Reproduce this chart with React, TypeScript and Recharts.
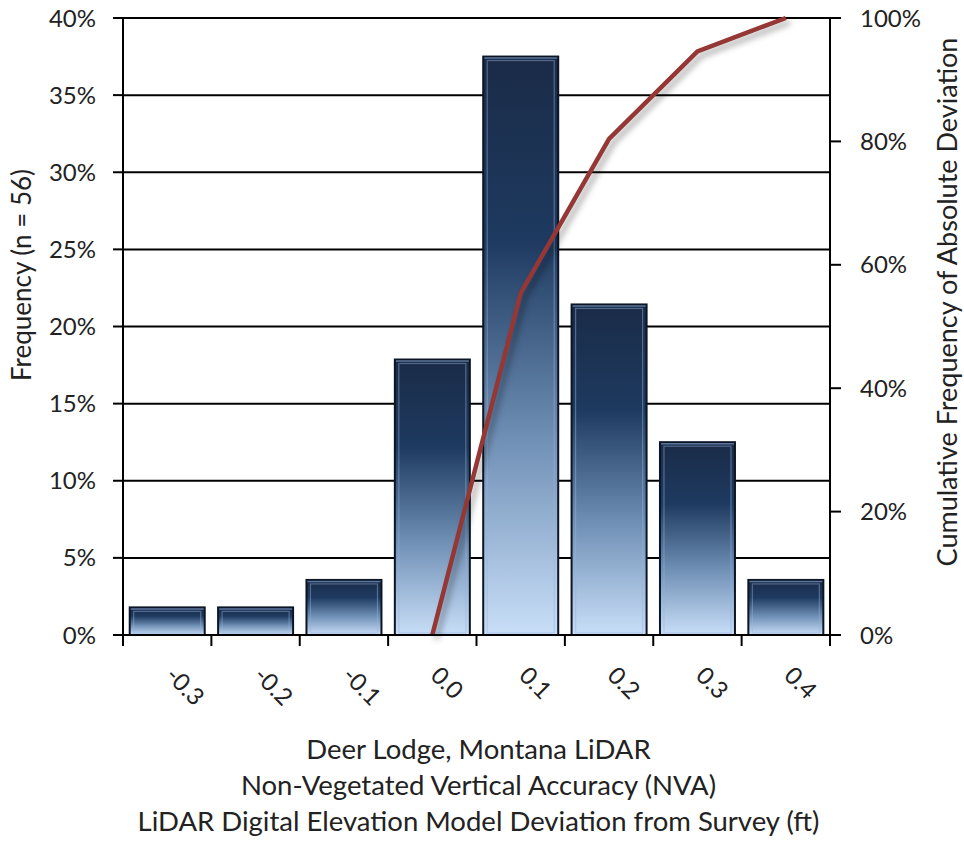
import { ComposedChart, Bar, Line, XAxis, YAxis, CartesianGrid, Label } from 'recharts';

document.body.style.margin = '0';

const categories = ['-0.3', '-0.2', '-0.1', '0.0', '0.1', '0.2', '0.3', '0.4'];
// share of the 56 points in each bin
const frequency = [0.0179, 0.0179, 0.0357, 0.1786, 0.375, 0.2143, 0.125, 0.0357];
// cumulative frequency of absolute deviation (starts at the 0.0 bin)
const cumulative = [null, null, null, 0, 0.554, 0.804, 0.946, 1.0];
const leftTicks = [0, 0.05, 0.1, 0.15, 0.2, 0.25, 0.3, 0.35, 0.4];
const rightTicks = [0, 0.2, 0.4, 0.6, 0.8, 1.0];
const titleLines = [
  'Deer Lodge, Montana LiDAR',
  'Non-Vegetated Vertical Accuracy (NVA)',
  'LiDAR Digital Elevation Model Deviation from Survey (ft)',
];

const data = categories.map((c, i) => ({ bin: c, freq: frequency[i], cum: cumulative[i] }));

const W = 964;
const H = 841;
const LEFT_W = 123;
const RIGHT_W = 134;
const X_H = 206;
const PLOT_W = W - LEFT_W - RIGHT_W;
const BAND = PLOT_W / categories.length;
const FONT = 'Lato, "Open Sans", sans-serif';
const TXT = '#222';

const pct = (v: number) => Math.round(v * 100) + '%';

function BevelBar(props: any) {
  const { x, y, width, height, index } = props;
  if (!height || height <= 0) return null;
  const id = 'barGrad' + index;
  return (
    <g>
      <defs>
        <linearGradient id={id} x1="0" y1="0" x2="0" y2="1">
          <stop offset="0" stopColor="#1a2b47" />
          <stop offset="0.32" stopColor="#1e3a60" />
          <stop offset="0.66" stopColor="#6f8fb5" />
          <stop offset="1" stopColor="#c9dff8" />
        </linearGradient>
      </defs>
      <rect x={x} y={y} width={width} height={height} fill={`url(#${id})`} stroke="#0b1524" strokeWidth={2} />
      <rect x={x + 4} y={y + 4} width={Math.max(width - 8, 0)} height={Math.max(height - 6, 0)} fill="none" stroke="rgba(150,180,220,0.45)" strokeWidth={1.2} />
      <line x1={x + 1} y1={y + 1.5} x2={x + width - 1} y2={y + 1.5} stroke="rgba(120,150,195,0.7)" strokeWidth={1.5} />
    </g>
  );
}

function XTick(props: any) {
  const { x, y, payload, index } = props;
  const last = index === categories.length - 1;
  return (
    <g>
      <line x1={x - BAND / 2} y1={y - 8} x2={x - BAND / 2} y2={y + 3} stroke="#000" strokeWidth={2} />
      {last && <line x1={x + BAND / 2} y1={y - 8} x2={x + BAND / 2} y2={y + 3} stroke="#000" strokeWidth={2} />}
      <text x={x - 3} y={y + 34} transform={`rotate(45 ${x - 3} ${y + 34})`} textAnchor="start" fontSize={24} fill={TXT} fontFamily={FONT}>
        {payload.value}
      </text>
    </g>
  );
}

function XTitle(props: any) {
  const vb = props.viewBox || {};
  const cx = (vb.x ?? LEFT_W) + (vb.width ?? PLOT_W) / 2 + 2;
  const top = vb.y ?? H - X_H;
  return (
    <text textAnchor="middle" fontSize={27.5} fill={TXT} fontFamily={FONT}>
      {titleLines.map((t, i) => (
        <tspan key={i} x={cx} y={top + 124 + i * 36}>{t}</tspan>
      ))}
    </text>
  );
}

function LeftTitle() {
  return (
    <text x={31} y={275} transform="rotate(-90 31 275)" textAnchor="middle" fontSize={26} fill={TXT} fontFamily={FONT}>
      Frequency (n = 56)
    </text>
  );
}

function RightTitle() {
  return (
    <text x={957} y={302} transform="rotate(-90 957 302)" textAnchor="middle" fontSize={27} fill={TXT} fontFamily={FONT}>
      Cumulative Frequency of Absolute Deviation
    </text>
  );
}

export default function App() {
  return (
    <div style={{ width: W, height: H, background: '#fff' }}>
      <style>{`.cum-line .recharts-line-curve { filter: drop-shadow(4px 4px 3px rgba(0,0,0,0.35)); }`}</style>
      <ComposedChart width={W} height={H} data={data} margin={{ top: 18, right: 0, bottom: 0, left: 0 }} barCategoryGap="7.6%">
        <CartesianGrid yAxisId="left" vertical={false} stroke="#000" strokeWidth={2} />
        <XAxis
          dataKey="bin"
          height={X_H}
          tickLine={false}
          axisLine={{ stroke: '#000', strokeWidth: 2 }}
          tick={<XTick />}
          interval={0}
        >
          <Label content={<XTitle />} />
        </XAxis>
        <YAxis
          yAxisId="left"
          width={LEFT_W}
          domain={[0, 0.4]}
          ticks={leftTicks}
          tickFormatter={pct}
          tickSize={10}
          tickMargin={17}
          tickLine={{ stroke: '#000', strokeWidth: 2 }}
          axisLine={{ stroke: '#000', strokeWidth: 2 }}
          tick={{ fontSize: 24, fill: TXT, fontFamily: FONT }}
          allowDataOverflow
        >
          <Label content={<LeftTitle />} />
        </YAxis>
        <YAxis
          yAxisId="right"
          orientation="right"
          width={RIGHT_W}
          domain={[0, 1]}
          ticks={rightTicks}
          tickFormatter={pct}
          tickSize={11}
          tickMargin={19}
          tickLine={{ stroke: '#000', strokeWidth: 2 }}
          axisLine={{ stroke: '#000', strokeWidth: 2 }}
          tick={{ fontSize: 24, fill: TXT, fontFamily: FONT, textAnchor: 'start' }}
        >
          <Label content={<RightTitle />} />
        </YAxis>
        <Bar yAxisId="left" dataKey="freq" shape={<BevelBar />} isAnimationActive={false} />
        <Line
          yAxisId="right"
          className="cum-line"
          dataKey="cum"
          type="linear"
          stroke="#953735"
          strokeWidth={4.5}
          dot={false}
          activeDot={false}
          connectNulls={false}
          isAnimationActive={false}
        />
      </ComposedChart>
    </div>
  );
}
